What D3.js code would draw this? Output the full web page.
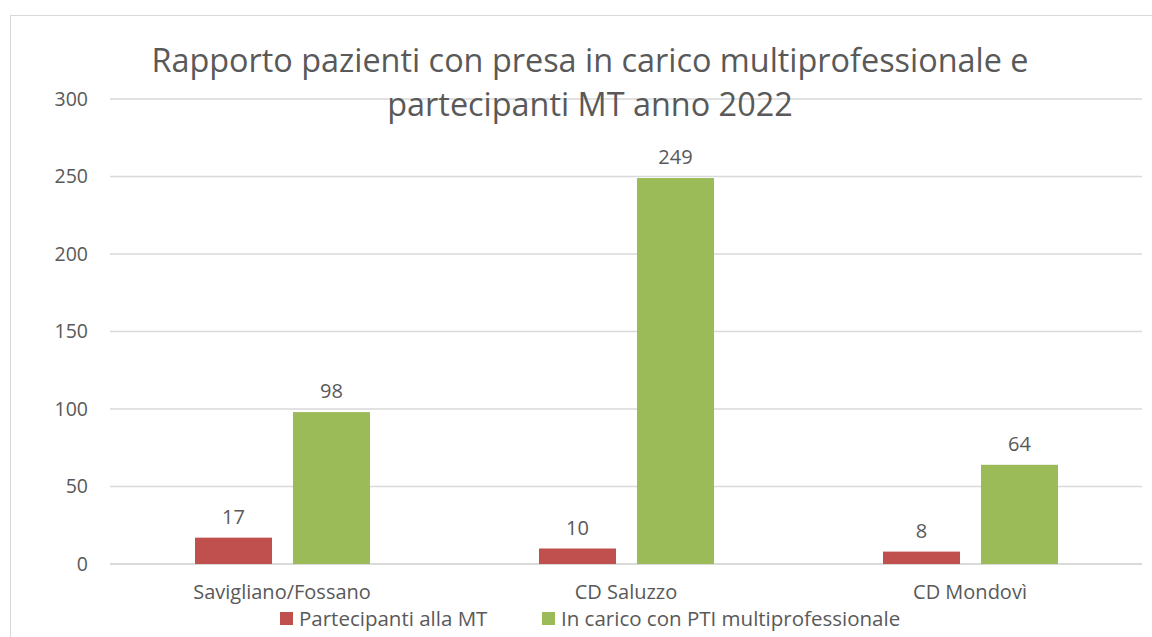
<!DOCTYPE html>
<html>
<head>
<meta charset="utf-8">
<script src="https://cdn.jsdelivr.net/npm/d3@7"></script>
<style>
  body { margin: 0; background: #fff; }
  text { font-family: "Open Sans", "Noto Sans", sans-serif; fill: #595959; }
</style>
</head>
<body>
<div id="chart"></div>
<script>
var categories = ["Savigliano/Fossano", "CD Saluzzo", "CD Mondovì"];
var seriesNames = ["Partecipanti alla MT", "In carico con PTI multiprofessionale"];
var partecipanti = [17, 10, 8];
var inCarico = [98, 249, 64];
var yTicks = [0, 50, 100, 150, 200, 250, 300];
var titleLines = ["Rapporto pazienti con presa in carico multiprofessionale e", "partecipanti MT anno 2022"];

var colors = ["#C0504D", "#9BBB59"];

var width = 1152, height = 637;
var margin = {left: 110, right: 10, top: 99, bottom: 73};

var svg = d3.select("#chart").append("svg")
    .attr("width", width)
    .attr("height", height);

// chart frame
svg.append("rect")
    .attr("x", 10.5).attr("y", 15.5)
    .attr("width", 1200).attr("height", 700)
    .attr("fill", "none")
    .attr("stroke", "#D9D9D9");

var x0 = d3.scaleBand()
    .domain(categories)
    .range([margin.left, width - margin.right]);

var x1 = d3.scaleBand()
    .domain(seriesNames)
    .range([85, 85 + 175])
    .paddingInner(0.214);

var y = d3.scaleLinear()
    .domain([0, 300])
    .range([height - margin.bottom, margin.top]);

// gridlines
svg.append("g")
  .selectAll("line")
  .data(yTicks)
  .enter().append("line")
    .attr("x1", margin.left)
    .attr("x2", width - margin.right)
    .attr("y1", d => y(d))
    .attr("y2", d => y(d))
    .attr("stroke", "#D9D9D9")
    .attr("stroke-width", d => d == 0 ? 2 : 1.3);

// y tick labels
svg.append("g")
  .selectAll("text")
  .data(yTicks)
  .enter().append("text")
    .attr("x", 88)
    .attr("y", d => y(d))
    .attr("dy", "0.35em")
    .attr("text-anchor", "end")
    .style("font-size", "19.5px")
    .text(d => d);

var rows = categories.map((c, i) => ({cat: c, values: [partecipanti[i], inCarico[i]]}));

var groups = svg.append("g")
  .selectAll("g")
  .data(rows)
  .enter().append("g")
    .attr("transform", d => `translate(${x0(d.cat)},0)`);

groups.selectAll("rect")
  .data(d => d.values.map((v, j) => ({name: seriesNames[j], value: v, j: j})))
  .enter().append("rect")
    .attr("x", d => x1(d.name))
    .attr("width", x1.bandwidth())
    .attr("y", d => y(d.value))
    .attr("height", d => y(0) - y(d.value))
    .attr("fill", d => colors[d.j]);

groups.selectAll("text")
  .data(d => d.values.map((v, j) => ({name: seriesNames[j], value: v})))
  .enter().append("text")
    .attr("x", d => x1(d.name) + x1.bandwidth() / 2)
    .attr("y", d => y(d.value) - 14)
    .attr("text-anchor", "middle")
    .style("font-size", "20px")
    .text(d => d.value);

// category labels
svg.append("g")
  .selectAll("text")
  .data(categories)
  .enter().append("text")
    .attr("x", d => x0(d) + x0.bandwidth() / 2)
    .attr("y", 599)
    .attr("text-anchor", "middle")
    .style("font-size", "20px")
    .text(d => d);

// title
svg.append("g")
  .selectAll("text")
  .data(titleLines)
  .enter().append("text")
    .attr("x", 590)
    .attr("y", (d, i) => 72 + i * 44)
    .attr("text-anchor", "middle")
    .style("font-size", "32.4px")
    .text(d => d);

// legend
var legendX = [280, 542];
var legend = svg.append("g")
  .selectAll("g")
  .data(seriesNames)
  .enter().append("g")
    .attr("transform", (d, i) => `translate(${legendX[i]},612)`);
legend.append("rect")
    .attr("width", 13).attr("height", 13)
    .attr("fill", (d, i) => colors[i]);
legend.append("text")
    .attr("x", 19)
    .attr("y", 7)
    .attr("dy", "0.35em")
    .style("font-size", "20.5px")
    .text(d => d);
</script>
</body>
</html>
